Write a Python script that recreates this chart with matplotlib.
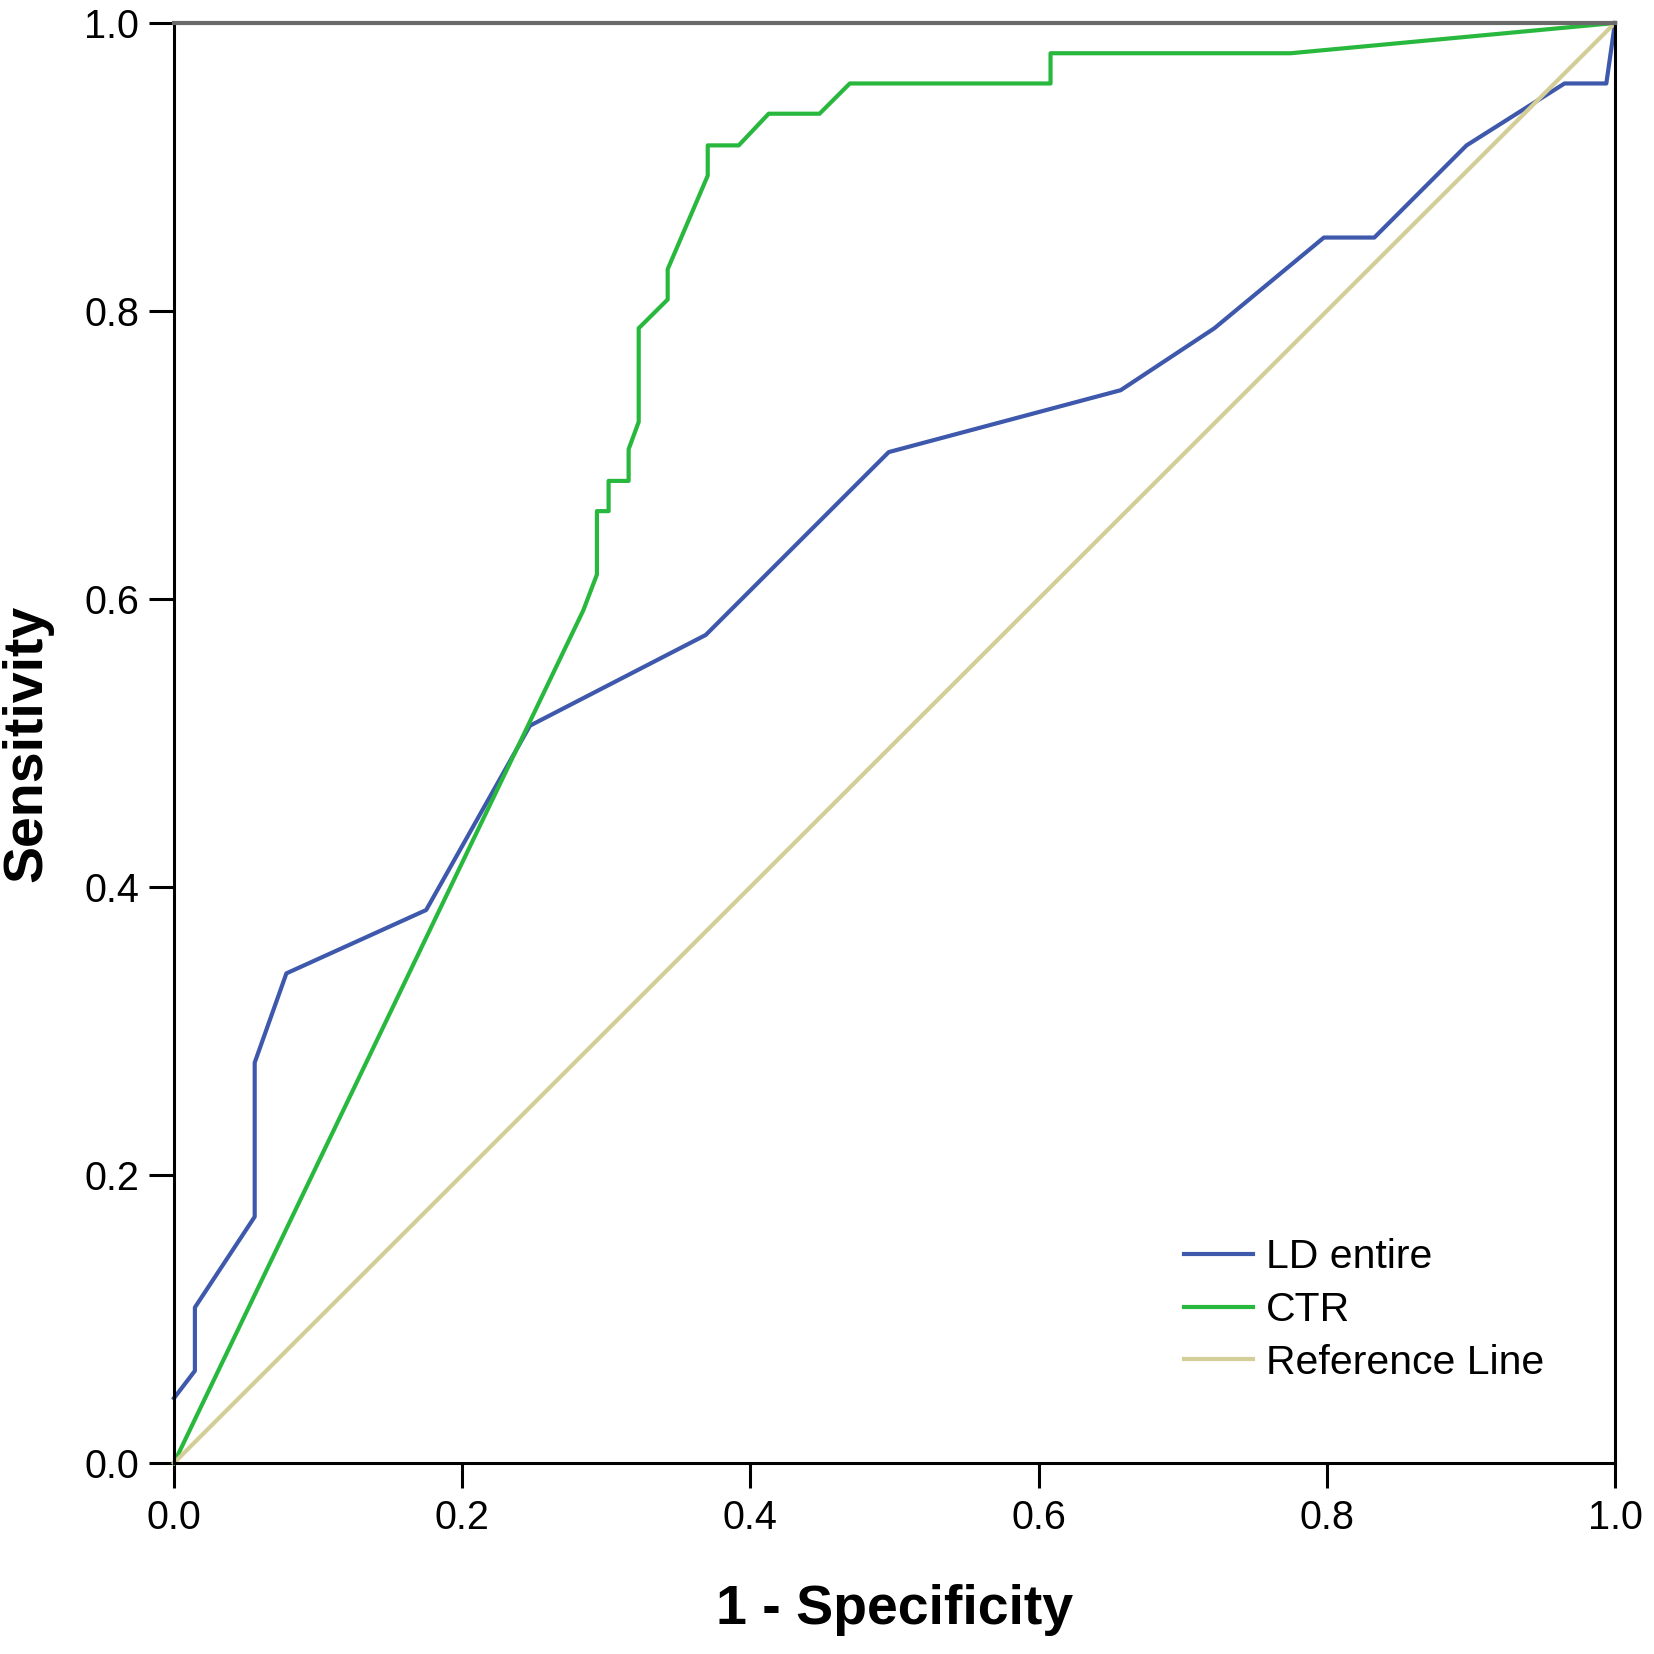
"""
ROC curves for LD entire and CTR, SPSS style.
"""

import matplotlib

matplotlib.use('Agg')
import matplotlib.pyplot as plt

plt.rcParams['font.family'] = ['Liberation Sans', 'DejaVu Sans']

# LD entire ROC vertices (1 - specificity, sensitivity)
ld_fpr = [0.0, 0.0145, 0.0145, 0.056, 0.056, 0.078, 0.175, 0.247, 0.369,
          0.496, 0.657, 0.722, 0.798, 0.833, 0.897, 0.965, 0.994, 1.0]
ld_tpr = [0.045, 0.064, 0.108, 0.171, 0.278, 0.340, 0.384, 0.512, 0.575,
          0.702, 0.745, 0.788, 0.851, 0.851, 0.915, 0.958, 0.958, 1.0]

# CTR ROC vertices
ctr_fpr = [0.0, 0.284, 0.2935, 0.2935, 0.3016, 0.3016, 0.3155, 0.3155,
           0.3225, 0.3225, 0.3426, 0.3426, 0.3704, 0.3704, 0.3919, 0.4127,
           0.448, 0.469, 0.6083, 0.6083, 0.775, 1.0]
ctr_tpr = [0.0, 0.592, 0.617, 0.661, 0.661, 0.682, 0.682, 0.704,
           0.723, 0.788, 0.808, 0.829, 0.894, 0.915, 0.915, 0.937,
           0.937, 0.958, 0.958, 0.979, 0.979, 1.0]

ref_line = [0.0, 1.0]

ticks = [0.0, 0.2, 0.4, 0.6, 0.8, 1.0]
tick_labels = ['0.0', '0.2', '0.4', '0.6', '0.8', '1.0']

fig = plt.figure(figsize=(16.54, 16.54), dpi=100)
ax = fig.add_axes((0.1052, 0.1155, 0.8712, 0.8706))

ax.plot(ld_fpr, ld_tpr, color='#3e58ac', lw=3.0, label='LD entire', clip_on=False)
ax.plot(ctr_fpr, ctr_tpr, color='#28b83e', lw=3.0, label='CTR', clip_on=False)
ax.plot(ref_line, ref_line, color='#d3ce97', lw=3.0, label='Reference Line', clip_on=False)

ax.set_xlim(0, 1)
ax.set_ylim(0, 1)
ax.set_xticks(ticks, tick_labels)
ax.set_yticks(ticks, tick_labels)
ax.tick_params(axis='both', direction='out', length=18, width=2.2,
               labelsize=28.5, color='black')
ax.tick_params(axis='x', pad=8)
ax.tick_params(axis='y', pad=7)

for side in ('left', 'bottom', 'right'):
    ax.spines[side].set_color('black')
    ax.spines[side].set_linewidth(2.2)
ax.spines['top'].set_color('#6a6a6a')
ax.spines['top'].set_linewidth(3.0)

ax.set_xlabel('1 - Specificity', fontsize=40, fontweight='bold')
ax.set_ylabel('Sensitivity', fontsize=40, fontweight='bold')
ax.xaxis.set_label_coords(0.5, -0.102)
ax.xaxis.label.set_va('center')
ax.yaxis.set_label_coords(-0.102, 0.5)
ax.yaxis.label.set_va('center')

ax.legend(loc='upper left', bbox_to_anchor=(0.7007, 0.156), frameon=False,
          fontsize=29.5, borderpad=0, borderaxespad=0, handlelength=1.7,
          handletextpad=0.3, labelspacing=0.36)

fig.savefig('out.png', facecolor='white')
plt.close(fig)
